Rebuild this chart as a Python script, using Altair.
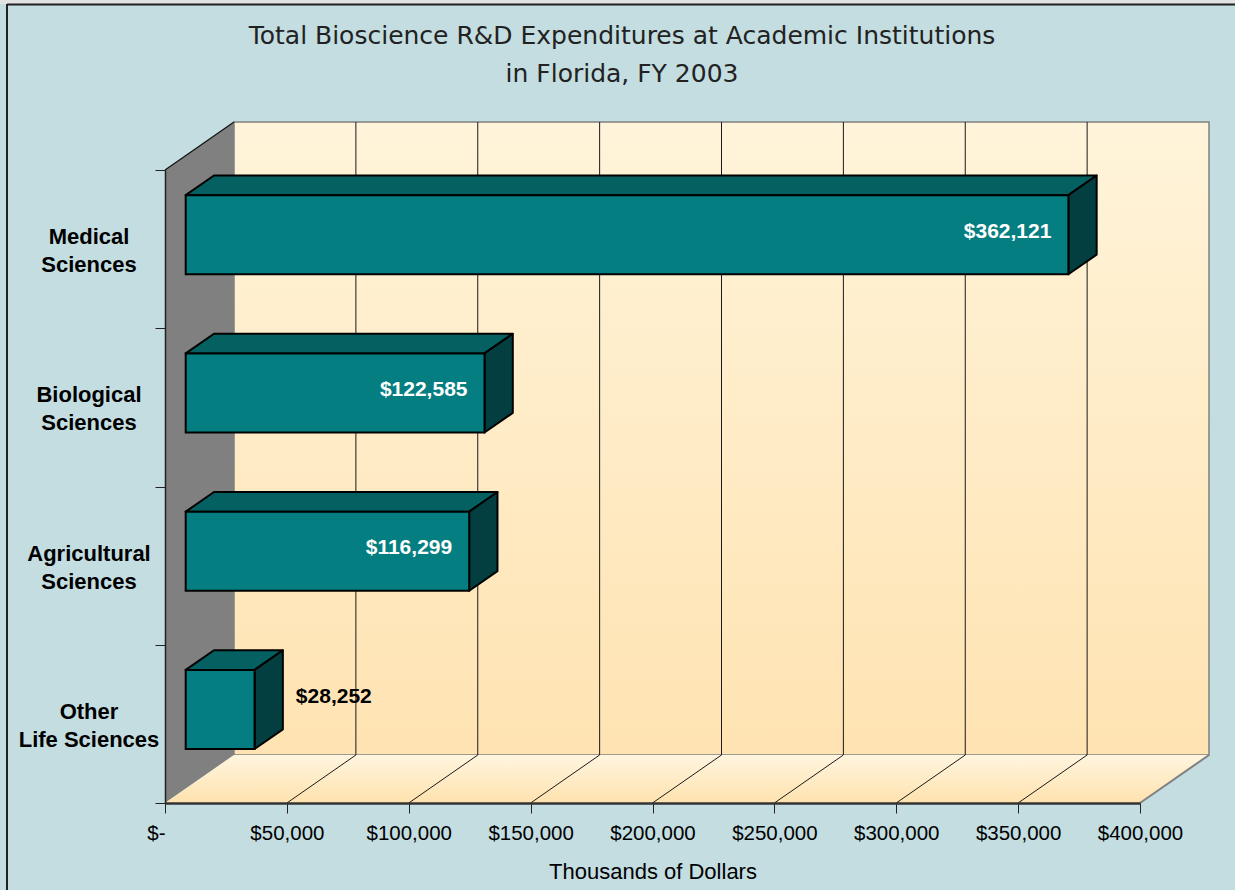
import altair as alt
import pandas as pd

# ---------------- data ----------------
categories = ["Other\nLife Sciences", "Agricultural\nSciences", "Biological\nSciences", "Medical\nSciences"]
values = [28252, 116299, 122585, 362121]
x_ticks = [0, 50000, 100000, 150000, 200000, 250000, 300000, 350000, 400000]
title_text = "Total Bioscience R&D Expenditures at Academic Institutions\nin Florida, FY 2003"
x_title = "Thousands of Dollars"

# ---------------- style ----------------
W, H = 975, 633
X_MAX = 400000
N = len(categories)
DEPTH_PX_X, DEPTH_PX_Y = 69, 48
DXV = DEPTH_PX_X * X_MAX / W      # depth shift expressed in x-scale units
DYV = DEPTH_PX_Y * N / H          # depth shift expressed in y-scale units
D0, D1 = 0.30, 0.71               # bar front / back depth fractions
HALF = 0.25                       # half bar thickness (rows)
INSIDE_MIN = 60000

BG = "#C3DDE1"
FRONT = "#047E80"
TOP = "#056062"
SIDE = "#033F40"
WALL = "#808080"

# ---------------- derived tables ----------------
fronts, tops, sides, labels, ylabels = [], [], [], [], []
for i, (c, v) in enumerate(zip(categories, values)):
    r = i + 0.5
    fronts.append({"id": i, "x0": D0 * DXV, "x1": v + D0 * DXV,
                   "y0": r - HALF + D0 * DYV, "y1": r + HALF + D0 * DYV})
    for d in (D0, D1):
        tops.append({"id": i, "y": r + HALF + d * DYV, "xa": d * DXV, "xb": v + d * DXV})
        sides.append({"id": i, "x": v + d * DXV, "ya": r - HALF + d * DYV, "yb": r + HALF + d * DYV})
    labels.append({"id": i, "text": f"${v:,}", "inside": v >= INSIDE_MIN,
                   "x_in": v + D0 * DXV, "y_in": r + D0 * DYV,
                   "x_out": v + D1 * DXV, "y_out": r + (D0 + D1) / 2 * DYV})
    ylabels.append({"label": c, "r": r, "x0": 0})

fronts = pd.DataFrame(fronts)
tops = pd.DataFrame(tops)
sides = pd.DataFrame(sides)
labels = pd.DataFrame(labels)
ylabels = pd.DataFrame(ylabels)

back_wall = pd.DataFrame([{"x0": DXV, "x1": X_MAX + DXV, "y0": DYV, "y1": N + DYV}])
side_wall = pd.DataFrame([{"x": 0, "ya": 0, "yb": N}, {"x": DXV, "ya": DYV, "yb": N + DYV}])
floor = pd.DataFrame([{"y": 0, "xa": 0, "xb": X_MAX}, {"y": DYV, "xa": DXV, "xb": X_MAX + DXV}])
grid_vals = [t for t in x_ticks if 0 < t < X_MAX]
back_grid = pd.DataFrame({"gx": [t + DXV for t in grid_vals], "gy0": DYV, "gy1": N + DYV})
floor_grid = pd.DataFrame({"gx0": grid_vals, "gx1": [t + DXV for t in grid_vals], "gy0": 0.0, "gy1": DYV})
wall_edge = pd.DataFrame([{"x0": 0, "x1": DXV, "y0": N, "y1": N + DYV}])
floor_edge = pd.DataFrame([{"x0": X_MAX, "x1": X_MAX + DXV, "y0": 0, "y1": DYV}])

xs = alt.Scale(domain=[0, X_MAX], nice=False, zero=False)
ys = alt.Scale(domain=[0, N], nice=False, zero=False)

x_axis = alt.Axis(
    values=x_ticks, title=x_title,
    labelExpr="datum.value == 0 ? '$-' : '$' + format(datum.value, ',')",
    labelAlign={"condition": {"test": "datum.value == 0", "value": "right"}, "value": "center"},
    labelFlush=False, labelOverlap=False, labelBound=False,
    tickSize=10, tickColor="#222", tickWidth=1,
    domainColor="#333", domainWidth=2.5,
    labelFont="Liberation Sans", labelFontSize=20.5, labelColor="black", labelPadding=10,
    titleFont="Liberation Sans", titleFontSize=22, titleFontWeight="normal",
    titleColor="black", titlePadding=18, grid=False, zindex=1,
)
y_axis = alt.Axis(values=list(range(N + 1)), labels=False, title=None,
                  tickSize=10, tickColor="#222", tickWidth=1,
                  domainColor="#222", domainWidth=1.5, grid=False, zindex=1)


def X(f, **kw):
    return alt.X(f, scale=xs, axis=x_axis, **kw)


def Y(f, **kw):
    return alt.Y(f, scale=ys, axis=y_axis, **kw)


vgrad = lambda c0, c1: alt.Gradient(gradient="linear",
                                     stops=[alt.GradientStop(color=c0, offset=0),
                                            alt.GradientStop(color=c1, offset=1)],
                                     x1=0, x2=0, y1=0, y2=1)

back = alt.Chart(back_wall).mark_rect(
    fill=vgrad("#FFF4DA", "#FFE3B2"), stroke=WALL, strokeWidth=1.5
).encode(x=X("x0:Q"), x2="x1:Q", y=Y("y0:Q"), y2="y1:Q")

side_w = alt.Chart(side_wall).mark_area(orient="vertical", fill=WALL).encode(
    x=X("x:Q"), y=Y("ya:Q", stack=None), y2="yb:Q")

floor_l = alt.Chart(floor).mark_area(orient="horizontal", fill=vgrad("#FFF5DF", "#FFE2AE")).encode(
    y=Y("y:Q"), x=X("xa:Q", stack=None), x2="xb:Q")

bgrid = alt.Chart(back_grid).mark_rule(color="#1a1a1a", strokeWidth=1).encode(
    x=X("gx:Q"), y=Y("gy0:Q"), y2="gy1:Q")
fgrid = alt.Chart(floor_grid).mark_rule(color="#1a1a1a", strokeWidth=1).encode(
    x=X("gx0:Q"), x2="gx1:Q", y=Y("gy0:Q"), y2="gy1:Q")
wedge = alt.Chart(wall_edge).mark_rule(color="#111", strokeWidth=1.2).encode(
    x=X("x0:Q"), x2="x1:Q", y=Y("y0:Q"), y2="y1:Q")
fedge = alt.Chart(floor_edge).mark_rule(color=WALL, strokeWidth=2).encode(
    x=X("x0:Q"), x2="x1:Q", y=Y("y0:Q"), y2="y1:Q")

top_l = alt.Chart(tops).mark_area(orient="horizontal", fill=TOP, stroke="black",
                                   strokeWidth=2, strokeJoin="round").encode(
    y=Y("y:Q"), x=X("xa:Q", stack=None), x2="xb:Q", detail="id:N")
side_l = alt.Chart(sides).mark_area(orient="vertical", fill=SIDE, stroke="black",
                                     strokeWidth=2, strokeJoin="round").encode(
    x=X("x:Q"), y=Y("ya:Q", stack=None), y2="yb:Q", detail="id:N")
front_l = alt.Chart(fronts).mark_rect(fill=FRONT, stroke="black", strokeWidth=2).encode(
    x=X("x0:Q"), x2="x1:Q", y=Y("y0:Q"), y2="y1:Q")

lab_in = alt.Chart(labels).transform_filter("datum.inside").mark_text(
    align="right", baseline="middle", dx=-17, dy=-3, color="white",
    font="Liberation Sans", fontSize=21, fontWeight="bold",
).encode(x=X("x_in:Q"), y=Y("y_in:Q"), text="text:N")
lab_out = alt.Chart(labels).transform_filter("!datum.inside").mark_text(
    align="left", baseline="middle", dx=13, dy=-3, color="black",
    font="Liberation Sans", fontSize=21, fontWeight="bold",
).encode(x=X("x_out:Q"), y=Y("y_out:Q"), text="text:N")

ylab = alt.Chart(ylabels).mark_text(
    align="center", baseline="middle", dx=-76, dy=-12, lineBreak="\n", lineHeight=28,
    font="Liberation Sans", fontSize=22, fontWeight="bold", color="black",
).encode(x=X("x0:Q"), y=Y("r:Q"), text="label:N")

title_l = alt.Chart(pd.DataFrame({"t": [title_text]})).mark_text(
    align="center", baseline="middle", lineBreak="\n", lineHeight=38,
    font="DejaVu Sans", fontSize=25, color="#222",
).encode(x=alt.value(457), y=alt.value(-134), text="t:N")

frame_src = pd.DataFrame({"k": [0]})
top_strip = alt.Chart(frame_src).mark_rect(color="#E2E2E2").encode(
    x=alt.value(-165), x2=alt.value(1070), y=alt.value(-170), y2=alt.value(-166))
frame_l = alt.Chart(frame_src).mark_rule(color="#222", strokeWidth=2).encode(
    x=alt.value(-158), y=alt.value(-166), y2=alt.value(720))
frame_t = alt.Chart(frame_src).mark_rule(color="#222", strokeWidth=2).encode(
    x=alt.value(-158), x2=alt.value(1070), y=alt.value(-165.5))

chart = alt.layer(
    back, side_w, floor_l, bgrid, fgrid, wedge, fedge,
    top_l, side_l, front_l, lab_in, lab_out, ylab, title_l,
    top_strip, frame_l, frame_t,
).properties(
    width=W, height=H, autosize="none",
    padding={"left": 165, "top": 170, "right": 95, "bottom": 87},
).configure(background=BG).configure_view(stroke=None)

chart.save("out.html", embed_options={"renderer": "svg", "actions": False})
